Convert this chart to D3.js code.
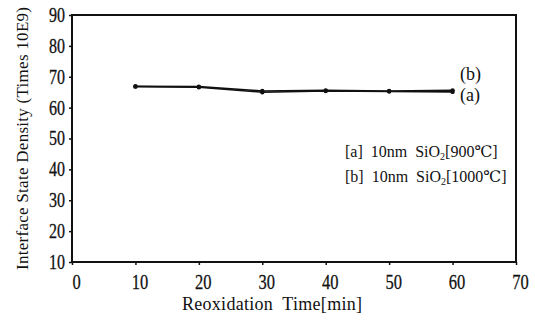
<!DOCTYPE html>
<html><head><meta charset="utf-8">
<script src="https://cdn.jsdelivr.net/npm/d3@7"></script>
<style>body{margin:0;background:#fff}svg{display:block}text{white-space:pre}</style>
</head><body><svg id="c" width="535" height="322"></svg>
<script>
const times = [10, 20, 30, 40, 50, 60];
const seriesA = [66.8, 66.6, 65.0, 65.4, 65.2, 65.1];
const seriesB = [66.9, 66.8, 65.4, 65.6, 65.4, 65.6];
const xTicks = [0, 10, 20, 30, 40, 50, 60, 70];
const yTicks = [10, 20, 30, 40, 50, 60, 70, 80, 90];
const legendLines = ["[a]  10nm  SiO", "[b]  10nm  SiO"];
const legendTails = ["[900℃]", "[1000℃]"];
const seriesNames = ["(b)", "(a)"];

const FONT = "'Liberation Serif', 'DejaVu Serif', serif";
const INK = "#111";
const svg = d3.select("#c").attr("font-family", FONT);
const L = 72, R = 516, T = 15, B = 262;
const x = d3.scaleLinear().domain([0, 70]).range([L, R]);
const y = d3.scaleLinear().domain([10, 90]).range([B, T]);

svg.append("rect").attr("x", L).attr("y", T).attr("width", R - L).attr("height", B - T)
  .attr("fill", "none").attr("stroke", INK).attr("stroke-width", 2);

const xa = svg.append("g").attr("transform", `translate(0,${B})`)
  .call(d3.axisBottom(x).tickValues(xTicks).tickSize(3).tickPadding(8).tickFormat(d3.format("d")));
xa.attr("font-family", FONT);
xa.select(".domain").remove();
xa.selectAll("line").attr("stroke", INK).attr("stroke-width", 1.5);
xa.selectAll("text").attr("font-family", FONT).attr("font-size", 22)
  .attr("transform", "scale(0.75,1)").attr("x", 4 / 0.75).attr("fill", INK)
  .attr("stroke", INK).attr("stroke-width", 0.3);

const ya = svg.append("g").attr("transform", `translate(${L},0)`)
  .call(d3.axisLeft(y).tickValues(yTicks).tickSize(3).tickPadding(4).tickFormat(d3.format("d")));
ya.attr("font-family", FONT);
ya.select(".domain").remove();
ya.selectAll("line").attr("stroke", INK).attr("stroke-width", 1.5);
ya.selectAll("text").attr("font-family", FONT).attr("font-size", 20)
  .attr("transform", "scale(0.8,1)").attr("x", -7 / 0.8).attr("fill", INK)
  .attr("stroke", INK).attr("stroke-width", 0.3);

const line = d3.line().x((d, i) => x(times[i])).y(d => y(d));
[seriesA, seriesB].forEach(s => {
  svg.append("path").datum(s).attr("d", line).attr("fill", "none")
    .attr("stroke", INK).attr("stroke-width", 1.6);
  svg.selectAll(null).data(s).enter().append("circle")
    .attr("cx", (d, i) => x(times[i])).attr("cy", d => y(d)).attr("r", 2.2).attr("fill", INK);
});

svg.append("text").attr("x", 460).attr("y", 80).attr("font-size", 18)
  .attr("fill", INK).text(seriesNames[0]);
svg.append("text").attr("x", 460).attr("y", 101).attr("font-size", 18)
  .attr("fill", INK).text(seriesNames[1]);

legendLines.forEach((t, i) => {
  const tx = svg.append("text").attr("x", 345).attr("y", 157 + i * 25).attr("font-size", 16).attr("fill", INK);
  tx.append("tspan").text(t);
  tx.append("tspan").attr("font-size", 10).attr("dy", 3).text("2");
  tx.append("tspan").attr("dy", -3).text(legendTails[i]);
});

svg.append("text").attr("x", 182).attr("y", 310).attr("font-size", 18).attr("fill", INK)
  .attr("textLength", 180).attr("lengthAdjust", "spacing").text("Reoxidation  Time[min]");
svg.append("text").attr("transform", "translate(28,270) rotate(-90)").attr("font-size", 17).attr("fill", INK)
  .attr("textLength", 263).attr("lengthAdjust", "spacing").text("Interface State Density (Times 10E9)");
</script></body></html>
